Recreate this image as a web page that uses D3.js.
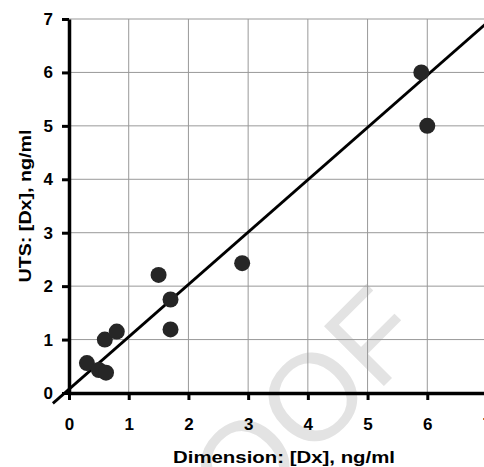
<!DOCTYPE html>
<html>
<head>
<meta charset="utf-8">
<script src="https://cdn.jsdelivr.net/npm/d3@7"></script>
<style>
    body { margin: 0; background: #fff; }
    svg { display: block; }
    text { font-family: "Liberation Sans", Arial, sans-serif; }
    .tick text { font-size: 17px; font-weight: bold; fill: #000; }
    .axis-title { font-size: 16.5px; font-weight: bold; fill: #000; }
</style>
</head>
<body>
<div id="chart"></div>
<script>
// measured pairs, Dimension vs UTS
const dimension = [0.3, 0.5, 0.62, 0.6, 0.8, 1.5, 1.7, 1.7, 2.9, 5.9, 6.0];
const uts       = [0.56, 0.43, 0.38, 1.0, 1.15, 2.21, 1.75, 1.19, 2.43, 6.0, 5.0];

const xTicks = [0, 1, 2, 3, 4, 5, 6, 7];
const yTicks = [0, 1, 2, 3, 4, 5, 6, 7];

// fitted line
const fitSlope = 0.98;
const fitIntercept = 0.07;
const fitRange = [-0.27, 7];

const width = 484, height = 467;
const margin = { top: 19, left: 69, bottom: 74 };

const svg = d3.select("#chart").append("svg")
    .attr("width", width)
    .attr("height", height);

const x = d3.scaleLinear().domain([0, 7]).range([margin.left, margin.left + 418]);
const y = d3.scaleLinear().domain([0, 7]).range([height - margin.bottom, margin.top]);

// faint watermark
svg.append("text")
    .attr("transform", "translate(430,340) rotate(-45)")
    .attr("text-anchor", "end")
    .style("font-size", "123px")
    .style("fill", "#e3e3e3")
    .text("PROOF");

// grid
const grid = svg.append("g").attr("stroke", "#999").attr("stroke-width", 1);
grid.selectAll(".gx")
    .data(xTicks.filter(d => d > 0))
    .enter().append("line")
    .attr("x1", d => x(d)).attr("x2", d => x(d))
    .attr("y1", y(0)).attr("y2", y(7));
grid.selectAll(".gy")
    .data(yTicks.filter(d => d > 0))
    .enter().append("line")
    .attr("x1", x(0)).attr("x2", x(7))
    .attr("y1", d => y(d)).attr("y2", d => y(d));

// axes
const xAxis = svg.append("g")
    .attr("transform", "translate(0," + y(0) + ")")
    .call(d3.axisBottom(x).tickValues(xTicks).tickFormat(d3.format("d"))
        .tickSize(7).tickSizeOuter(0).tickPadding(18));

const yAxis = svg.append("g")
    .attr("transform", "translate(" + x(0) + ",0)")
    .call(d3.axisLeft(y).tickValues(yTicks).tickFormat(d3.format("d"))
        .tickSize(7).tickSizeOuter(0).tickPadding(9));

[xAxis, yAxis].forEach(a => {
    a.select(".domain").attr("stroke", "#000").attr("stroke-width", 3.5);
    a.selectAll(".tick line").attr("stroke", "#000").attr("stroke-width", 3);
});

// fitted line
const line = d3.line().x(d => x(d)).y(d => y(fitSlope * d + fitIntercept));
svg.append("path")
    .datum(fitRange)
    .attr("d", line)
    .attr("fill", "none")
    .attr("stroke", "#000")
    .attr("stroke-width", 2.8);

// points
svg.append("g").selectAll("circle")
    .data(dimension)
    .enter().append("circle")
    .attr("cx", d => x(d))
    .attr("cy", (d, i) => y(uts[i]))
    .attr("r", 8)
    .attr("fill", "#262626");

// titles (the source lettering is wide, so stretch to its measured length)
svg.append("text")
    .attr("class", "axis-title")
    .attr("x", 284).attr("y", 463)
    .attr("text-anchor", "middle")
    .attr("textLength", 222)
    .attr("lengthAdjust", "spacingAndGlyphs")
    .text("Dimension: [Dx], ng/ml");

svg.append("text")
    .attr("class", "axis-title")
    .attr("transform", "translate(31,206) rotate(-90)")
    .attr("text-anchor", "middle")
    .attr("textLength", 153)
    .attr("lengthAdjust", "spacingAndGlyphs")
    .text("UTS: [Dx], ng/ml");
</script>
</body>
</html>
